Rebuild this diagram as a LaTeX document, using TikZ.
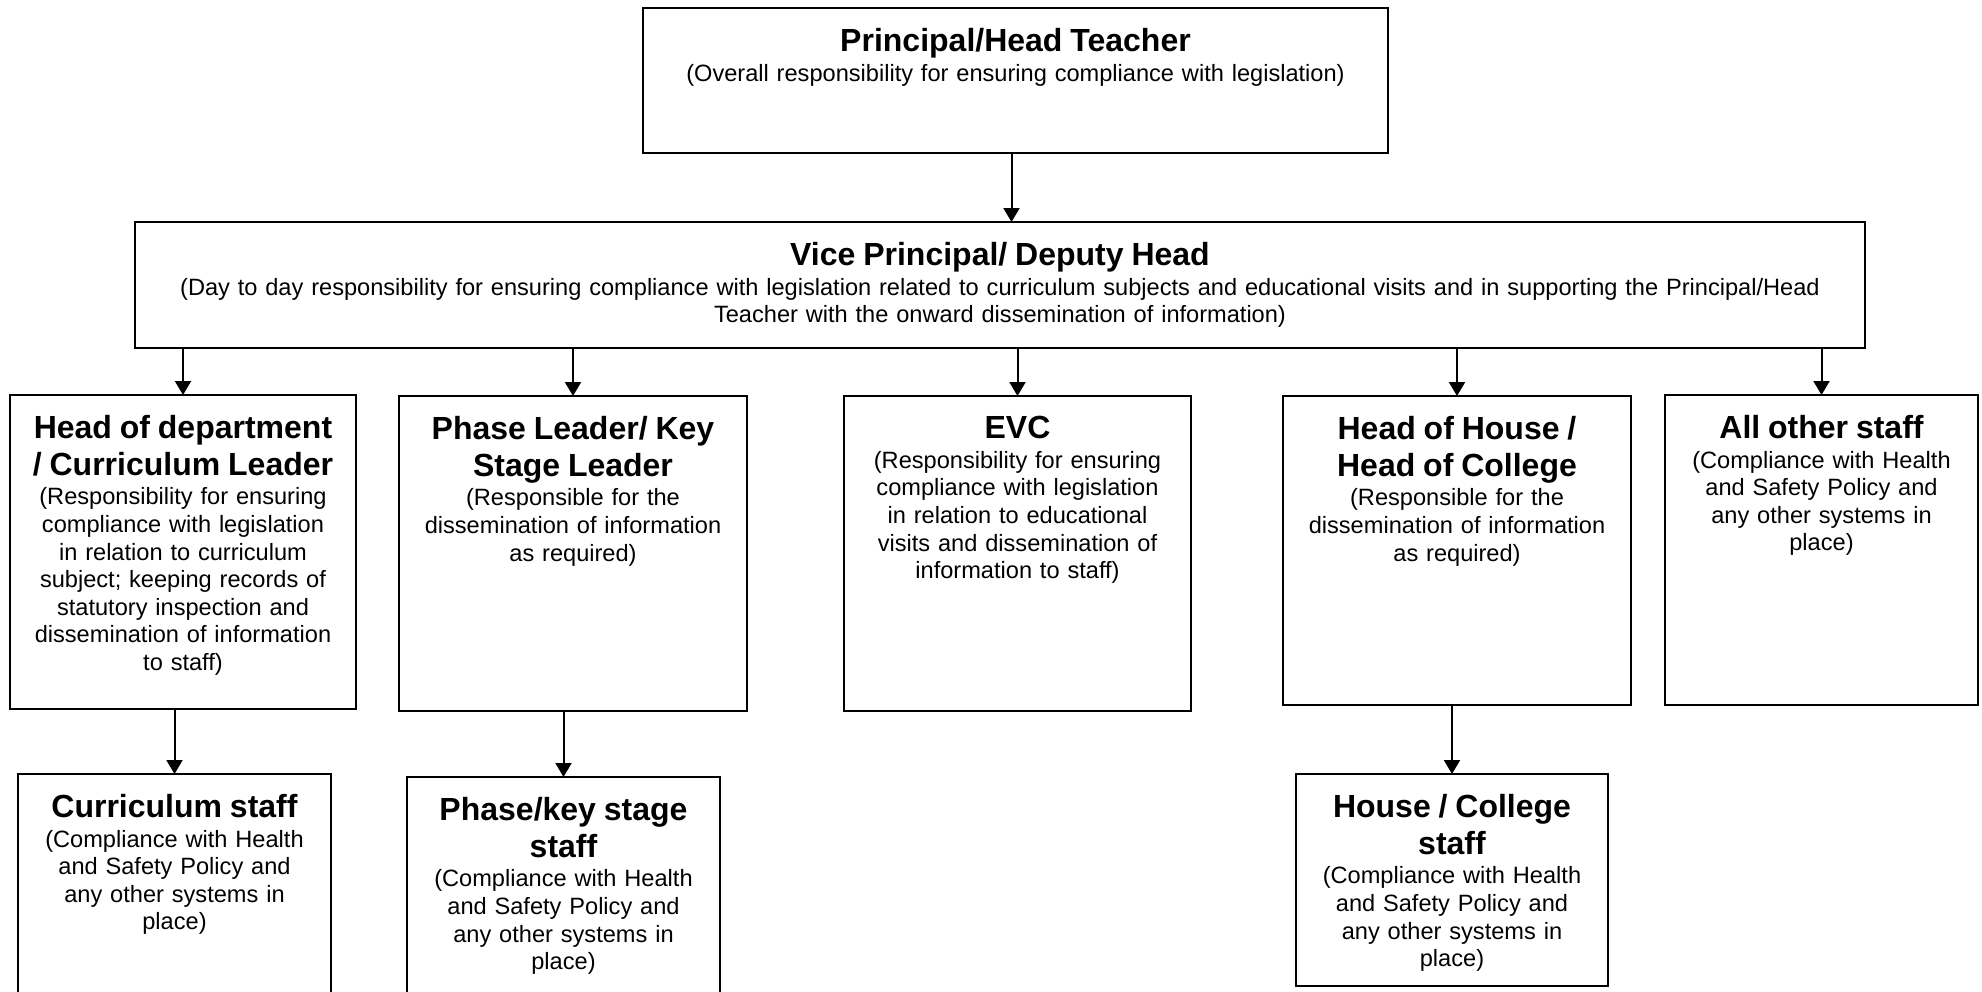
\documentclass[tikz,border=0pt]{standalone}
\usepackage{fontspec}
\setmainfont{Liberation Sans}
\usepackage{tikz}
\usetikzlibrary{arrows.meta}
\tikzset{>={Triangle[length=7pt,width=8pt]}}
\newcommand{\boxtitle}[1]{{\fontsize{16}{18.4}\selectfont\bfseries #1\par}\vspace{1pt}}
\tikzset{
  orgbox/.style={draw,line width=1.1pt,inner sep=0pt,outer sep=0pt,anchor=north west},
  orgtext/.style={anchor=north,inner sep=0pt,align=center,text width=#1,
    font=\fontsize{11.8}{13.8}\selectfont},
  link/.style={->,line width=1pt}
}
\begin{document}
\begin{tikzpicture}[x=0.5pt,y=-0.5pt]
  \clip (0,0) rectangle (1982,991);
  \node[orgbox,minimum width=372.5pt,minimum height=72.5pt] (principal) at (643,8) {};
  \node[orgbox,minimum width=865pt,minimum height=63pt] (vice) at (135,222) {};
  \node[orgbox,minimum width=173pt,minimum height=157pt] (headdept) at (10,395) {};
  \node[orgbox,minimum width=174pt,minimum height=157.5pt] (phase) at (399,396) {};
  \node[orgbox,minimum width=173.5pt,minimum height=157.5pt] (evc) at (844,396) {};
  \node[orgbox,minimum width=174pt,minimum height=154.5pt] (house) at (1283,396) {};
  \node[orgbox,minimum width=156.5pt,minimum height=155pt] (allstaff) at (1665,395) {};
  \node[orgbox,minimum width=156.5pt,minimum height=125pt] (curstaff) at (18,774) {};
  \node[orgbox,minimum width=156.5pt,minimum height=125pt] (phasestaff) at (407,777) {};
  \node[orgbox,minimum width=156pt,minimum height=106pt] (housestaff) at (1296,774) {};

  \node[orgtext=372.5pt] (principal-t) at ([yshift=-10pt]principal.north)
    {\boxtitle{Principal/Head Teacher}(Overall responsibility for ensuring compliance with legislation)};
  \node[orgtext=865pt] (vice-t) at ([yshift=-10pt]vice.north)
    {\boxtitle{Vice Principal/ Deputy Head}(Day to day responsibility for ensuring compliance with legislation related to curriculum subjects and educational visits and in supporting the Principal/Head\\
    Teacher with the onward dissemination of information)};
  \node[orgtext=173pt] (headdept-t) at ([yshift=-10pt]headdept.north)
    {\boxtitle{Head of department\\/ Curriculum Leader}(Responsibility for ensuring\\compliance with legislation\\in relation to curriculum\\subject; keeping records of\\statutory inspection and\\dissemination of information\\to staff)};
  \node[orgtext=174pt] (phase-t) at ([yshift=-10pt]phase.north)
    {\boxtitle{Phase Leader/ Key\\Stage Leader}(Responsible for the\\dissemination of information\\as required)};
  \node[orgtext=173.5pt] (evc-t) at ([yshift=-10pt]evc.north)
    {\boxtitle{EVC}(Responsibility for ensuring\\compliance with legislation\\in relation to educational\\visits and dissemination of\\information to staff)};
  \node[orgtext=174pt] (house-t) at ([yshift=-10pt]house.north)
    {\boxtitle{Head of House /\\Head of College}(Responsible for the\\dissemination of information\\as required)};
  \node[orgtext=156.5pt] (allstaff-t) at ([yshift=-10pt]allstaff.north)
    {\boxtitle{All other staff}(Compliance with Health\\and Safety Policy and\\any other systems in\\place)};
  \node[orgtext=156.5pt] (curstaff-t) at ([yshift=-10pt]curstaff.north)
    {\boxtitle{Curriculum staff}(Compliance with Health\\and Safety Policy and\\any other systems in\\place)};
  \node[orgtext=156.5pt] (phasestaff-t) at ([yshift=-10pt]phasestaff.north)
    {\boxtitle{Phase/key stage\\staff}(Compliance with Health\\and Safety Policy and\\any other systems in\\place)};
  \node[orgtext=156pt] (housestaff-t) at ([yshift=-10pt]housestaff.north)
    {\boxtitle{House / College\\staff}(Compliance with Health\\and Safety Policy and\\any other systems in\\place)};

  \draw[link] ([xshift=-2pt]principal.south) -- ([xshift=-2pt]principal.south |- vice.north);
  \foreach \n in {headdept,phase,evc,house,allstaff}
    \draw[link] (vice.south -| \n.north) -- (\n.north);
  \draw[link] (headdept.south -| curstaff.north) -- (curstaff.north);
  \draw[link] (phase.south -| phasestaff.north) -- (phasestaff.north);
  \draw[link] (house.south -| housestaff.north) -- (housestaff.north);
\end{tikzpicture}
\end{document}
